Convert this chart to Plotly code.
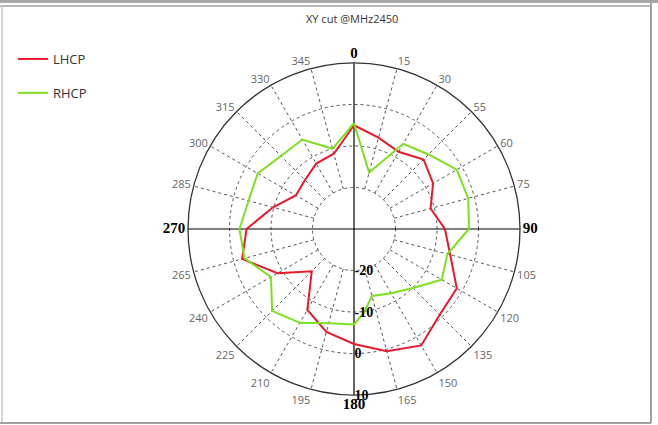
import plotly.graph_objects as go

# ---------------- data ----------------
lhcp_theta = [0, 15, 30, 45, 60, 75, 90, 105, 120, 135, 150, 165, 180, 195, 210, 225,
              240, 255, 270, 285, 300, 315, 330, 345, 350, 360]
lhcp_r = [-5.0, -7.2, -8.5, -6.3, -8.0, -10.9, -8.1, -6.0, -1.4, -0.8, 2.4, 0.5, -2.3, -4.3,
          -7.5, -15.6, -8.7, -2.1, -4.1, -9.8, -13.8, -13.3, -11.8, -11.2, -9.7, -5.0]

rhcp_theta = [0, 15, 30, 45, 60, 75, 90, 105, 120, 135, 150, 165, 173, 180, 195, 210, 225,
              240, 255, 270, 285, 300, 315, 330, 345, 360]
rhcp_r = [-4.5, -15.9, -6.3, -4.6, -1.4, -1.5, -2.3, -6.7, -5.6, -9.9, -12.1, -13.3, -9.8,
          -7.0, -6.5, -3.9, -2.1, -6.9, -2.7, -2.4, -3.7, -3.2, -5.1, -5.1, -10.0, -4.5]

angle_ticks = list(range(0, 360, 15))
angle_labels = ["0", "15", "30", "55", "60", "75", "90", "105", "120", "135", "150", "165",
                "180", "195", "210", "225", "240", "265", "270", "285", "300", "315", "330", "345"]
radial_ticks = [-20, -10, 0, 10]
radial_labels = ["-20", "-10", "0", "10"]
r_min, r_max = -30, 10
title_text = "XY cut @MHz2450"

# -------------- figure ---------------
W, H = 658, 425
fig = go.Figure()

# dashed spokes from the inner ring to the rim (grid)
sp_r, sp_t = [], []
for a in angle_ticks:
    if a % 90 == 0:
        continue
    sp_r += [-20, r_max, None]
    sp_t += [a, a, None]
fig.add_trace(go.Scatterpolar(r=sp_r, theta=sp_t, mode="lines", showlegend=False,
                              hoverinfo="skip",
                              line=dict(color="#555555", width=1, dash="3px,3px")))
# solid cross through the centre
fig.add_trace(go.Scatterpolar(r=[r_max, r_max, None, r_max, r_max],
                              theta=[0, 180, None, 90, 270], mode="lines",
                              showlegend=False, hoverinfo="skip",
                              line=dict(color="#000000", width=1.2)))

fig.add_trace(go.Scatterpolar(r=lhcp_r, theta=lhcp_theta, mode="lines", name="LHCP",
                              legendgroup="a", line=dict(color="#e8192c", width=2)))
fig.add_trace(go.Scatterpolar(r=rhcp_r, theta=rhcp_theta, mode="lines", name="RHCP",
                              legendgroup="b", line=dict(color="#7ddf1e", width=2)))

def ang_label(v, t):
    if v % 90 == 0:
        return ("<span style='font-family:Liberation Serif;font-size:15px;"
                "font-weight:bold;color:#000'>" + t + "</span>")
    return t

cx, cy, R = 354, 229, 166
fig.update_layout(
    width=W, height=H,
    margin=dict(l=0, r=0, t=0, b=0, pad=0),
    paper_bgcolor="white",
    showlegend=True,
    legend=dict(x=13 / W, y=1 - 44 / H, xanchor="left", yanchor="top",
                font=dict(family="Open Sans", size=13, color="#333333"),
                tracegroupgap=14, bgcolor="rgba(0,0,0,0)"),
    polar=dict(
        domain=dict(x=[(cx - R) / W, (cx + R) / W],
                    y=[(H - cy - R) / H, (H - cy + R) / H]),
        bgcolor="white",
        angularaxis=dict(rotation=90, direction="clockwise",
                         tickmode="array", tickvals=angle_ticks,
                         ticktext=[ang_label(v, t) for v, t in zip(angle_ticks, angle_labels)],
                         showgrid=False, ticks="",
                         showline=True, linecolor="#333333", linewidth=1.3,
                         tickfont=dict(family="Open Sans", size=11, color="#666666")),
        radialaxis=dict(range=[r_min, r_max], angle=270, tickangle=-90,
                        side="counterclockwise",
                        tickmode="array", tickvals=radial_ticks,
                        ticktext=["<b>" + t + "</b>" for t in radial_labels],
                        tickfont=dict(family="Liberation Serif", size=14, color="#000000"),
                        showline=False, ticks="",
                        showgrid=True, gridcolor="#555555", griddash="3px,3px",
                        gridwidth=1),
    ),
    annotations=[dict(text=title_text, x=352 / W, y=1 - 18 / H, xref="paper", yref="paper",
                      showarrow=False, xanchor="center", yanchor="middle",
                      font=dict(family="Open Sans", size=11, color="#333333"))],
    shapes=[
        dict(type="rect", xref="paper", yref="paper", x0=0, x1=1, y0=1 - 3 / H, y1=1,
             fillcolor="#a8a8a8", line=dict(width=0)),
        dict(type="line", xref="paper", yref="paper", x0=0, x1=651 / W,
             y0=1 - 6 / H, y1=1 - 6 / H, line=dict(color="#a0a0a0", width=1.5)),
        dict(type="line", xref="paper", yref="paper", x0=2 / W, x1=2 / W,
             y0=2 / H, y1=1 - 6 / H, line=dict(color="#c8c8c8", width=1.5)),
        dict(type="line", xref="paper", yref="paper", x0=651 / W, x1=651 / W,
             y0=2 / H, y1=1, line=dict(color="#a0a0a0", width=2)),
        dict(type="line", xref="paper", yref="paper", x0=0, x1=651 / W,
             y0=2 / H, y1=2 / H, line=dict(color="#a0a0a0", width=2)),
    ],
)

fig.write_html("out.html", config={"displayModeBar": False},
               post_script="document.body.style.margin='0';"
                           "document.body.style.overflow='hidden';")
